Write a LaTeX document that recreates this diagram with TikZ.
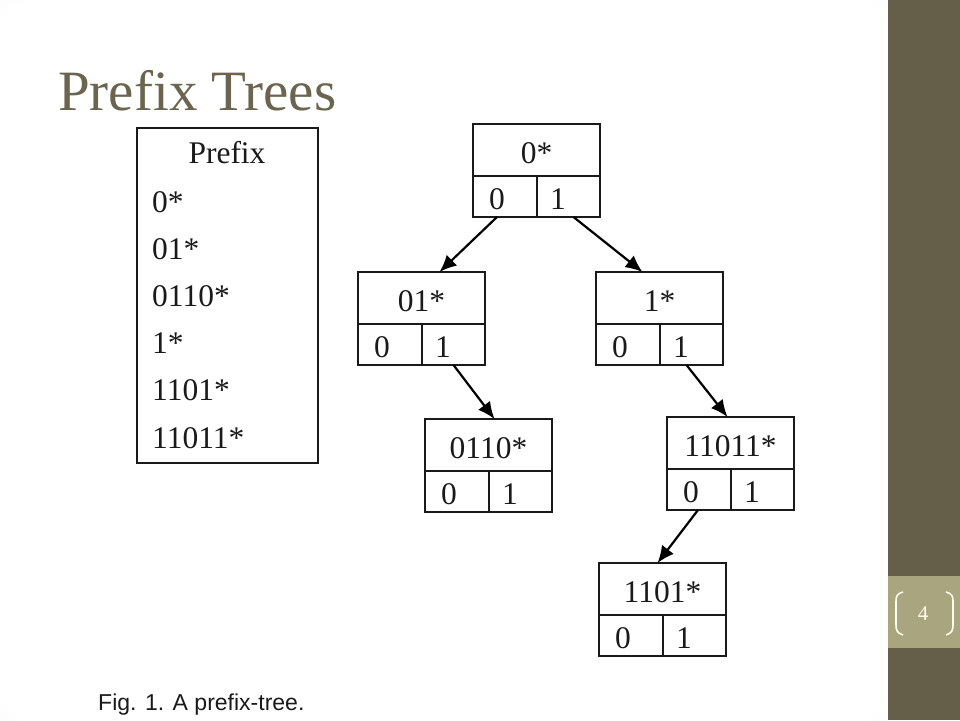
\documentclass[tikz,border=0pt]{standalone}
\usepackage{fontspec}
\setmainfont{Liberation Serif}
\newfontfamily\capfont{Liberation Sans}
\usetikzlibrary{arrows.meta}
\definecolor{sidebar}{HTML}{655E48}
\definecolor{numbox}{HTML}{A9A57F}
\definecolor{titlecol}{HTML}{6B644E}
\definecolor{inkcol}{HTML}{1A1A1A}
\definecolor{cream}{HTML}{FFFDEB}
\pgfdeclareradialshading{slidebg}{\pgfpoint{0bp}{0bp}}{color(0bp)=(white); color(34bp)=(white); color(50bp)=(black!11); color(72bp)=(black!24)}
\tikzset{
  topbox/.style={draw=inkcol, line width=2.2pt, rectangle, inner sep=0pt, outer sep=0pt, minimum width=127pt, minimum height=52pt},
  cellbox/.style={draw=inkcol, line width=2.2pt, rectangle, inner sep=0pt, outer sep=0pt, minimum height=41pt},
  lbl/.style={inner sep=0pt, text=inkcol, font=\fontsize{31.5}{34}\selectfont},
  arr/.style={draw=black, line width=2.2pt, -{Latex[length=17pt,width=15pt]}},
}
\newcommand\pfxnode[4]{%
  \node[topbox, anchor=north west] (#1) at (#2,#3) {};
  \node[cellbox, minimum width=64pt, anchor=north west] (#1-0) at (#1.south west) {};
  \node[cellbox, minimum width=63pt, anchor=north east] (#1-1) at (#1.south east) {};
  \node[lbl, anchor=base] (#1-t) at ([yshift=-39pt]#1.north) {#4};
  \node[lbl, anchor=base] (#1-z) at ([xshift=24pt,yshift=-33pt]#1-0.north west) {0};
  \node[lbl, anchor=base] (#1-o) at ([xshift=21pt,yshift=-33pt]#1-1.north west) {1};
}
\begin{document}
\begin{tikzpicture}[x=1pt,y=-1pt]
\useasboundingbox (0,0) rectangle (960,720);
% slide background
\shade[shading=slidebg] (0,0) rectangle (888,720);
\fill[white] (93,128) rectangle (798,720);
% sidebar
\fill[sidebar] (888,0) rectangle (960,720);
\fill[numbox] (888,576) rectangle (960,648);
\node[text=cream, font=\fontsize{21}{24}\selectfont] (num) at (923,614) {4};
\draw[cream, line width=1.6pt] (903,592) .. controls (896,594) and (896,597) .. (896,602) -- (896,625) .. controls (896,630) and (897,633) .. (903,635);
\draw[cream, line width=1.6pt] (946,592) .. controls (953,594) and (953,597) .. (953,602) -- (953,625) .. controls (953,630) and (952,633) .. (946,635);
% title
\node[anchor=base west, inner sep=0pt, text=titlecol, font=\fontsize{57}{62}\selectfont] (title) at (58,110) {Prefix Trees};
% prefix table
\node[draw=inkcol, line width=1.8pt, rectangle, inner sep=0pt, outer sep=0pt, minimum width=181pt, minimum height=335pt, anchor=north west] (tab) at (137,128) {};
\node[lbl, anchor=base] (tabh) at (227,163) {Prefix};
\node[lbl, anchor=base west] (p1) at (152,212) {0*};
\node[lbl, anchor=base west] (p2) at (152,259) {01*};
\node[lbl, anchor=base west] (p3) at (152,306) {0110*};
\node[lbl, anchor=base west] (p4) at (152,353) {1*};
\node[lbl, anchor=base west] (p5) at (152,400) {1101*};
\node[lbl, anchor=base west] (p6) at (152,448) {11011*};
% tree nodes
\pfxnode{r}{473}{124}{0*}
\pfxnode{a}{358}{272}{01*}
\pfxnode{b}{596}{272}{1*}
\pfxnode{c}{425}{419}{0110*}
\pfxnode{d}{667}{417}{11011*}
\pfxnode{e}{599}{563}{1101*}
% arrows
\draw[arr] ([xshift=-8pt]r-0.south) -- ([xshift=18pt]a.north);
\draw[arr] ([xshift=5pt]r-1.south) -- ([xshift=-17pt]b.north);
\draw[arr] ([xshift=0pt]a-1.south) -- ([xshift=6pt]c.north);
\draw[arr] ([xshift=-5pt]b-1.south) -- ([xshift=-3pt]d.north);
\draw[arr] ([xshift=-1pt]d-0.south) -- ([xshift=-5pt]e.north);
% caption
\node[anchor=base west, inner sep=0pt, text=inkcol, font=\capfont\fontsize{23}{26}\selectfont] (cap) at (98,710) {Fig. 1. A prefix-tree.};
\end{tikzpicture}
\end{document}
